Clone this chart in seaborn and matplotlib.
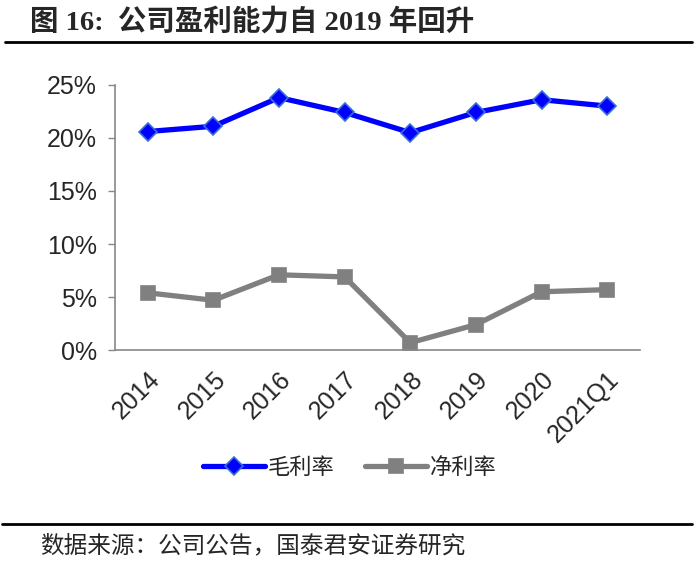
import numpy as np
import pandas as pd
import matplotlib
matplotlib.use("Agg")
import matplotlib.pyplot as plt
import seaborn as sns

# data
periods = ["2014", "2015", "2016", "2017", "2018", "2019", "2020", "2021Q1"]
gross_margin = [20.6, 21.1, 23.8, 22.4, 20.5, 22.4, 23.6, 23.0]
net_margin = [5.4, 4.7, 7.1, 6.9, 0.7, 2.4, 5.5, 5.7]
series_names = ["毛利率", "净利率"]

sns.set_style("white")
plt.rcParams["font.family"] = ["Liberation Sans", "Noto Sans CJK SC", "DejaVu Sans"]

df = pd.DataFrame({
	"period": periods * 2,
	"value": gross_margin + net_margin,
	"series": [series_names[0]] * len(periods) + [series_names[1]] * len(periods),
})

fig = plt.figure(figsize=(6.99, 5.62), dpi=100)
ax = fig.add_axes([0.1645, 0.377, 0.751, 0.472])

palette = {series_names[0]: "#0000FF", series_names[1]: "#808080"}
sns.lineplot(data=df, x="period", y="value", hue="series", style="series",
			 palette=palette, markers={series_names[0]: "D", series_names[1]: "s"},
			 dashes=False, linewidth=3.8, markersize=10, ax=ax, sort=False)

# marker edges
for line in ax.get_lines():
	if line.get_color() in ("#0000FF", "#0000ff"):
		line.set_markeredgecolor("#3A6FD8")
		line.set_markersize(9)
	else:
		line.set_markeredgecolor("#808080")
	line.set_markeredgewidth(1.2)

ax.set_ylim(0, 25)
ax.set_xlim(-0.5, len(periods) - 0.5)
ax.set_yticks([0, 5, 10, 15, 20, 25])
ax.set_yticklabels([f"{v}%" for v in [0, 5, 10, 15, 20, 25]], fontsize=18)
ax.set_xticks(range(len(periods)))
ax.set_xticklabels(periods, fontsize=18, rotation=45, ha="right", rotation_mode="anchor")
ax.set_xticks(np.arange(-0.5, len(periods)), minor=True)
ax.tick_params(axis="x", which="major", length=0, pad=12)
ax.tick_params(axis="x", which="minor", length=6, color="#888888", width=1)
ax.tick_params(axis="y", length=5, color="#888888", width=1, pad=8, left=True)
ax.set_xlabel("")
ax.set_ylabel("")
for side in ["top", "right"]:
	ax.spines[side].set_visible(False)
for side in ["left", "bottom"]:
	ax.spines[side].set_color("#888888")
	ax.spines[side].set_linewidth(1.2)

handles, labels = ax.get_legend_handles_labels()
ax.legend(handles, labels, loc="center", bbox_to_anchor=(0.5, 0.169),
		  bbox_transform=fig.transFigure, ncol=2, frameon=False,
		  prop={"family": ["Noto Sans CJK SC"], "size": 16},
		  handlelength=2.8, handletextpad=0.1, columnspacing=1.4)

# title and source
fig.text(0.043, 0.962, "图 16:  公司盈利能力自 2019 年回升", fontsize=20.5, fontweight="bold",
		 family=["Liberation Serif", "Noto Sans CJK SC"], va="center", ha="left")
fig.add_artist(plt.Line2D([0.007, 0.99], [0.925, 0.925], color="black", linewidth=2,
						  transform=fig.transFigure))
fig.add_artist(plt.Line2D([0.003, 0.99], [0.068, 0.068], color="black", linewidth=2,
						  transform=fig.transFigure))
fig.text(0.057, 0.028, "数据来源：公司公告，国泰君安证券研究", fontsize=17,
		 family=["Noto Sans CJK SC"], va="center", ha="left")

fig.savefig("out.png", dpi=100)
